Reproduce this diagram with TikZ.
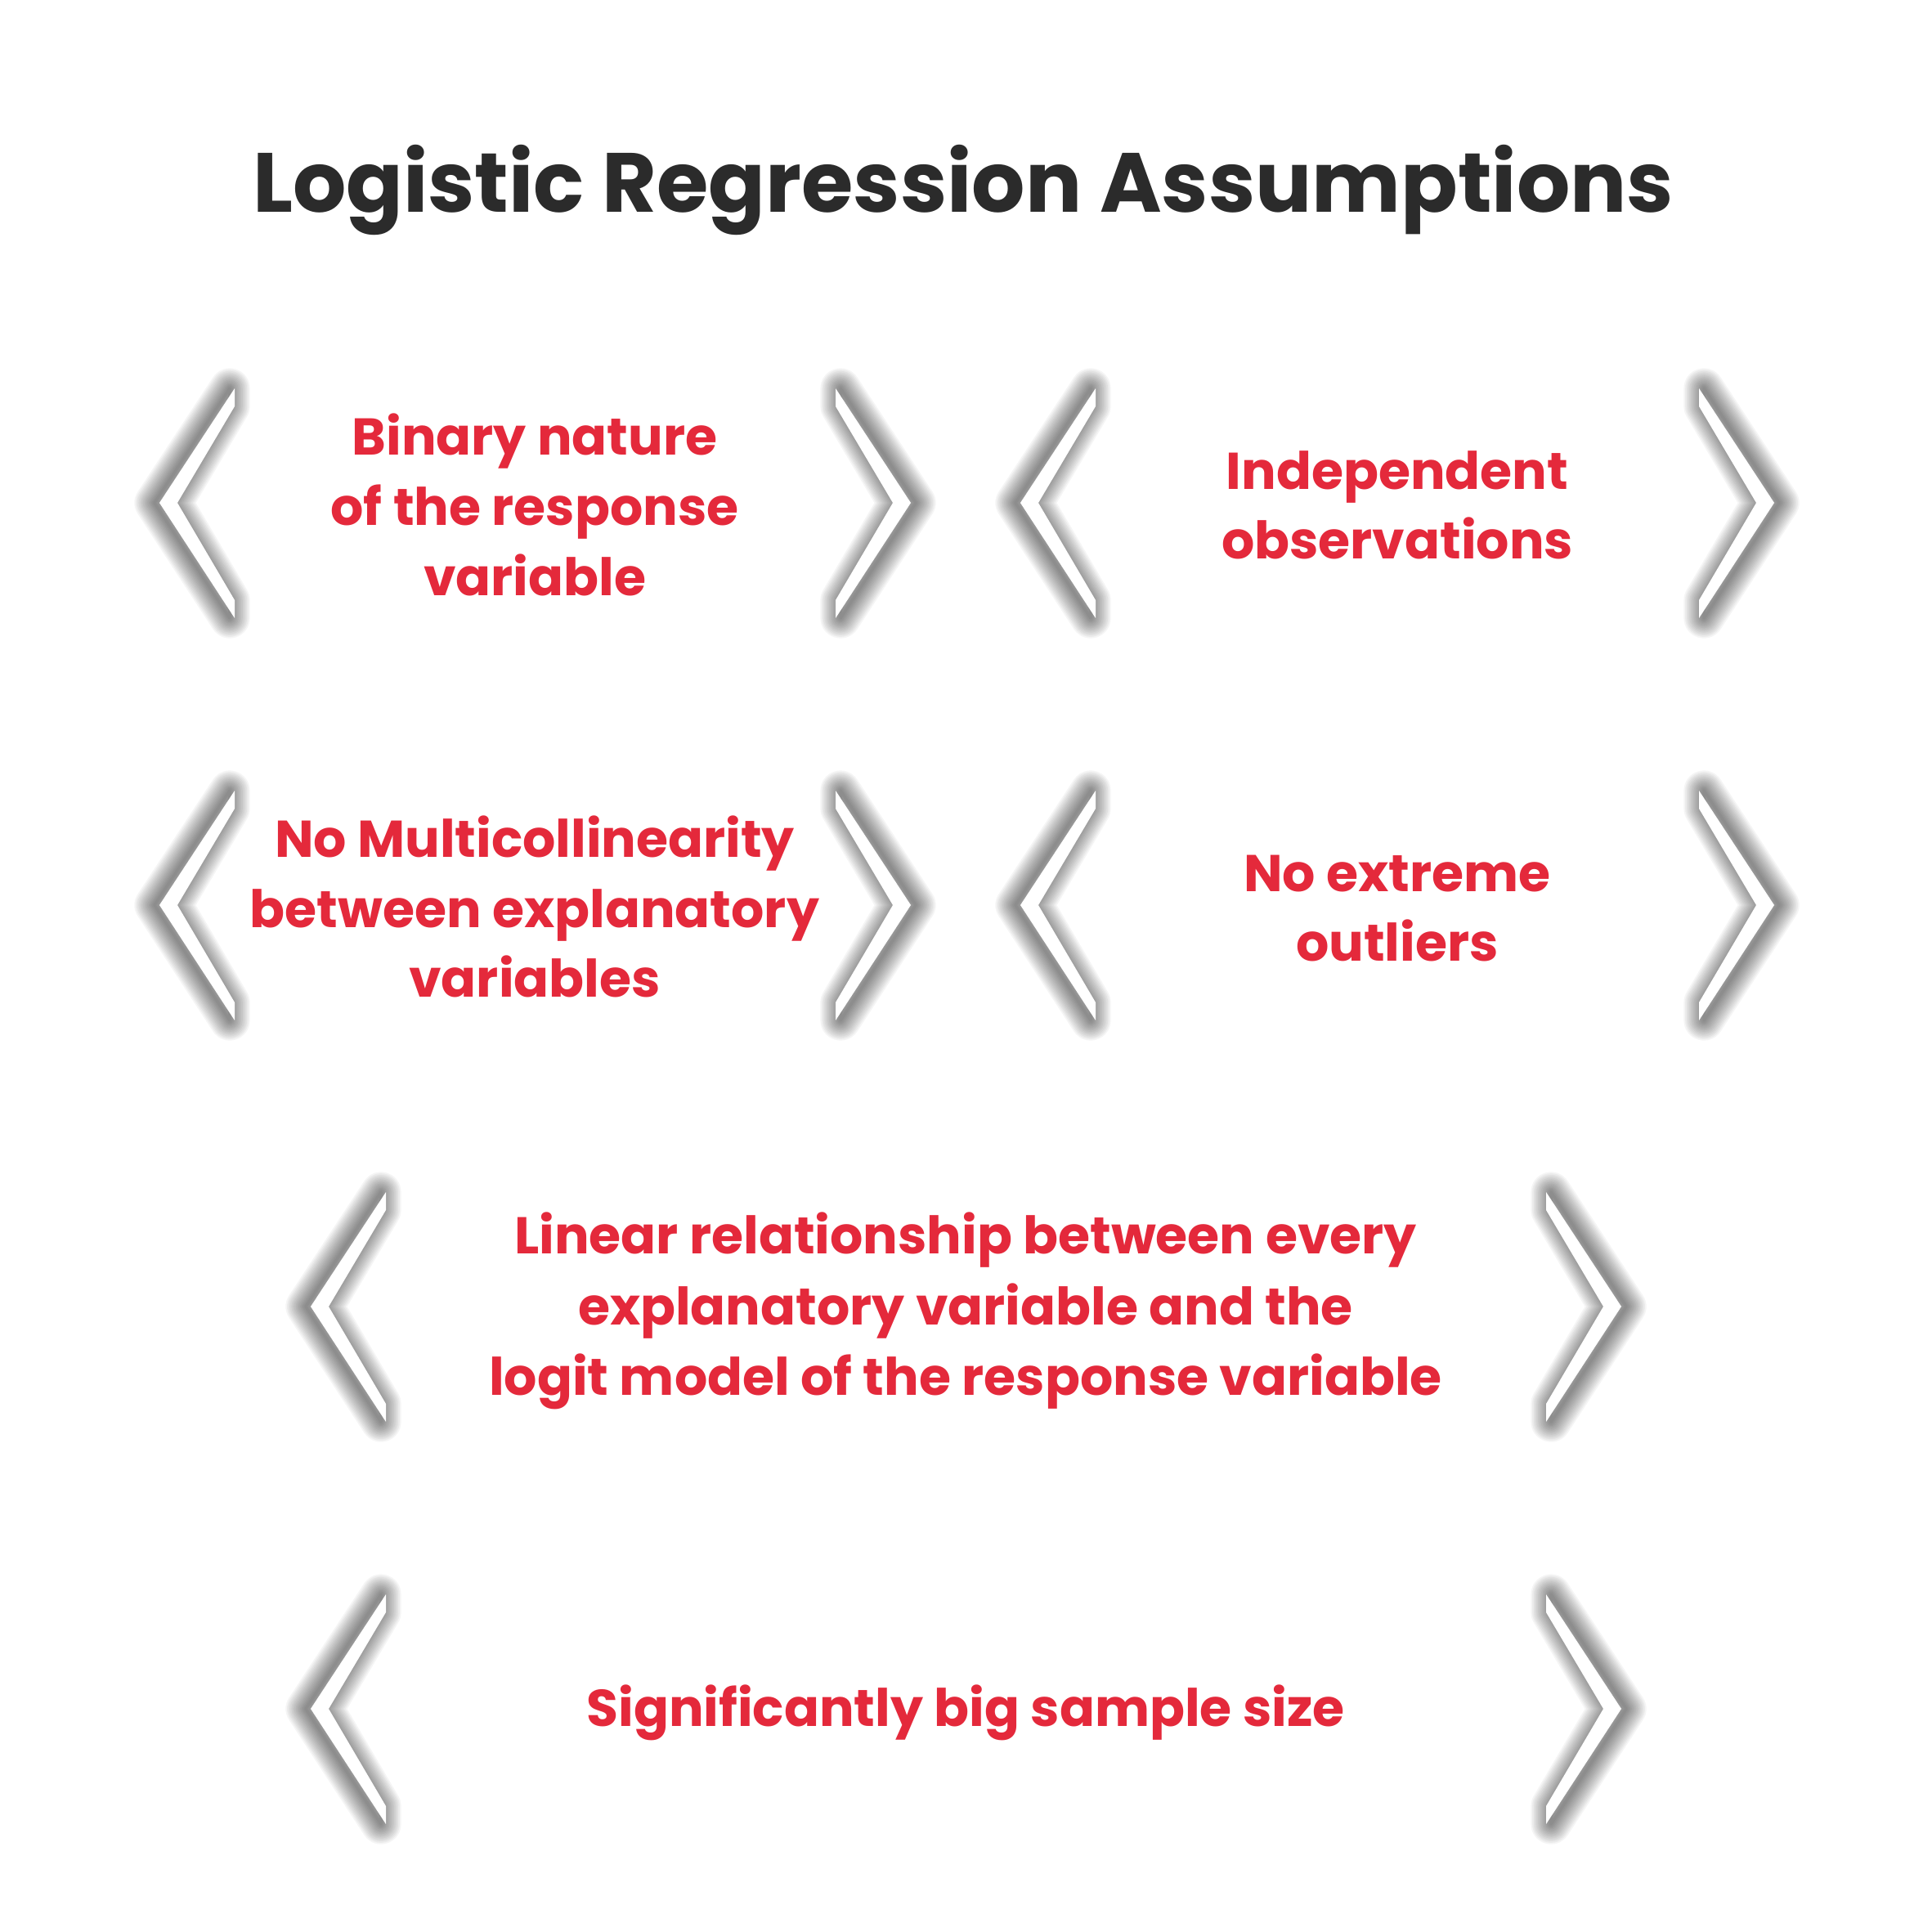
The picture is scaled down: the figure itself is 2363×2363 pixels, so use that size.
\documentclass[tikz,border=0pt]{standalone}
\usepackage{fontspec}
\setmainfont{Poppins}
\definecolor{titlegray}{HTML}{2B2B2B}
\definecolor{accred}{HTML}{E4293B}
\tikzset{
  shadowstroke/.style={draw=black, opacity=0.038, line join=round},
  chevfill/.style={fill=white},
  txt/.style={anchor=base, inner sep=0pt, text=accred, font=\bfseries\fontsize{18}{18}\selectfont},
  ttl/.style={anchor=base, inner sep=0pt, text=titlegray, font=\bfseries\fontsize{29.2}{29.2}\selectfont}
}
% #1 apex x, #2 centre y, #3 = 1 for "<", -1 for ">"
\newcommand\chevron[3]{%
  \begin{scope}[shift={(#1,#2)}, xscale=#3]
    \begin{scope}[xshift=-0.06cm]
      \foreach \w in {1,2,...,14}{%
        \pgfmathsetmacro\lw{\w*1.0}%
        \draw[shadowstroke, line width=\lw pt] (92,-140) -- (0,0) -- (92,141) -- (92,119) -- (22,0) -- (92,-118) -- cycle;}
    \end{scope}
    \fill[chevfill] (92,-140) -- (0,0) -- (92,141) -- (92,119) -- (22,0) -- (92,-118) -- cycle;
  \end{scope}}
\begin{document}
\begin{tikzpicture}[x=0.01cm, y=-0.01cm]
\fill[white] (0,0) rectangle (2363,2363);
\useasboundingbox (0,0) rectangle (2363,2363);

\node[ttl] (title) at (1178,259) {Logistic Regression Assumptions};

% row 1
\chevron{195}{615}{1}\chevron{1114}{615}{-1}
\chevron{1248}{615}{1}\chevron{2170}{615}{-1}
% row 2
\chevron{195}{1107}{1}\chevron{1114}{1107}{-1}
\chevron{1248}{1107}{1}\chevron{2170}{1107}{-1}
% row 3
\chevron{380}{1598}{1}\chevron{1983}{1598}{-1}
% row 4
\chevron{380}{2090}{1}\chevron{1983}{2090}{-1}

\node[txt] (a1) at (654,556) {Binary nature};
\node[txt] (a2) at (654,642) {of the response};
\node[txt] (a3) at (654,728) {variable};

\node[txt] (b1) at (1709,598) {Independent};
\node[txt] (b2) at (1709,683) {observations};

\node[txt] (c1) at (654,1048) {No Multicollinearity};
\node[txt] (c2) at (654,1134) {between explanatory};
\node[txt] (c3) at (654,1219) {variables};

\node[txt] (d1) at (1709,1090) {No extreme};
\node[txt] (d2) at (1709,1175) {outliers};

\node[txt] (e1) at (1181,1533) {Linear relationship between every};
\node[txt] (e2) at (1181,1620) {explanatory variable and the};
\node[txt] (e3) at (1181,1706) {logit model of the response variable};

\node[txt] (f1) at (1181,2111) {Significantly big sample size};
\end{tikzpicture}
\end{document}
